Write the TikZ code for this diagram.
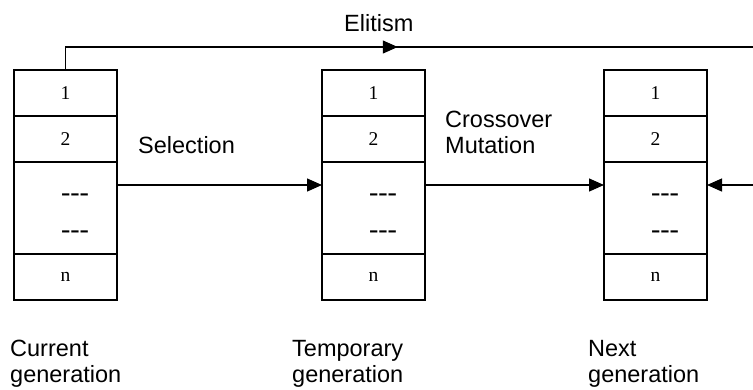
\documentclass[tikz,border=0pt]{standalone}
\usepackage{fontspec}
\setmainfont{Liberation Sans}
\newfontfamily\cellfont{Liberation Serif}
\usetikzlibrary{arrows.meta,decorations.markings}
\begin{document}
\begin{tikzpicture}[x=1pt,y=-1pt,
  cell/.style={draw, line width=1.3pt, minimum width=103pt, minimum height=46pt,
    inner sep=0pt, outer sep=0pt, font=\cellfont\fontsize{19.5}{19.5}\selectfont},
  bigcell/.style={cell, minimum height=92pt},
  dashmark/.style={inner sep=0pt, anchor=base, font=\cellfont\fontsize{28}{28}\selectfont},
  lbl/.style={anchor=base west, inner sep=0pt, font=\fontsize{23.5}{26}\selectfont, align=left},
  conn/.style={line width=1.3pt, -{Triangle[length=15pt,width=13pt]}}]
\useasboundingbox (0,0) rectangle (753,389);

% boxes
\foreach \b/\x in {a/65.5, b/373.5, c/655.5} {
  \node[cell] (\b1) at (\x,93) {1};
  \node[cell] (\b2) at (\x,139) {2};
  \node[bigcell] (\b3) at (\x,208) {};
  \node[cell] (\b4) at (\x,277) {n};
  \node[dashmark] (\b d1) at (\x+9.5,201) {-{}-{}-};
  \node[dashmark] (\b d2) at (\x+9.5,238) {-{}-{}-};
}

% labels (anchor = baseline of the last line)
\node[lbl] (sel) at (138,153) {Selection};
\node[lbl] (cm) at (445,153) {Crossover\\Mutation};
\node[lbl] (eli) at (344,31) {Elitism};
\node[lbl] (cur) at (10,382) {Current\\generation};
\node[lbl] (tmp) at (292,382) {Temporary\\generation};
\node[lbl] (nxt) at (588,382) {Next\\generation};

% connectors
\coordinate (eend) at (753,47);
\coordinate (rin) at (753,185);
\draw[line width=1.3pt, postaction={decorate},
  decoration={markings, mark=at position 0.5 with {\arrow{Triangle[length=15pt,width=13pt]}}}]
  (a1.north) |- (eend);
\draw[conn] ([yshift=-23pt]a3.north east) -- ([yshift=-23pt]b3.north west);
\draw[conn] ([yshift=-23pt]b3.north east) -- ([yshift=-23pt]c3.north west);
\draw[conn] (rin) -- ([yshift=-23pt]c3.north east);
\end{tikzpicture}
\end{document}
